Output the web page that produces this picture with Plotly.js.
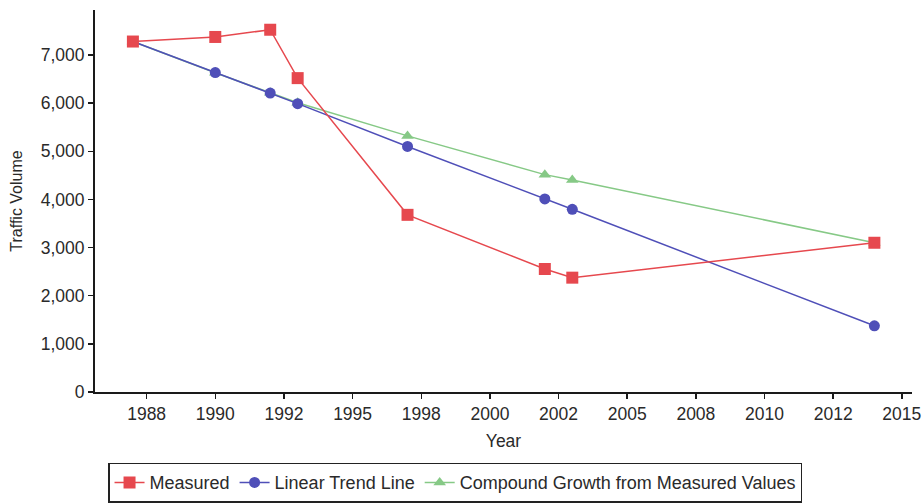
<!DOCTYPE html>
<html>
<head>
<meta charset="utf-8">
<script src="https://cdn.plot.ly/plotly-3.0.1.min.js"></script>
<style>html,body{margin:0;padding:0;background:#fff;}#chart{width:923px;height:503px;}</style>
</head>
<body>
<div id="chart"></div>
<script>
// Data
const years = [1987, 1990, 1992, 1993, 1997, 2002, 2003, 2014];
const measured = [7280, 7375, 7525, 6520, 3680, 2555, 2375, 3100];
const linearTrend = [7280, 6635, 6210, 5990, 5100, 4010, 3795, 1375];
const compoundYears = [1987, 1990, 1992, 1993, 1997, 2002, 2003, 2014];
const compoundGrowth = [7280, 6630, 6215, 6010, 5320, 4515, 4405, 3100];

const tickYears = [1987.5, 1990, 1992.5, 1995, 1997.5, 2000, 2002.5, 2005, 2007.5, 2010, 2012.5, 2015];
const tickLabels = ['1988', '1990', '1992', '1995', '1998', '2000', '2002', '2005', '2008', '2010', '2012', '2015'];

const seriesNames = ['Measured', 'Linear Trend Line', 'Compound Growth from Measured Values'];

const red = '#e6484e';
const blue = '#4f4fb8';
const green = '#86c986';

const traces = [
  {
    x: compoundYears, y: compoundGrowth, name: seriesNames[2], type: 'scatter', mode: 'lines+markers',
    line: {color: green, width: 1.5},
    marker: {symbol: 'triangle-up', size: 11, color: green},
    legendrank: 3
  },
  {
    x: years, y: linearTrend, name: seriesNames[1], type: 'scatter', mode: 'lines+markers',
    line: {color: blue, width: 1.5},
    marker: {symbol: 'circle', size: 11, color: blue},
    legendrank: 2
  },
  {
    x: years, y: measured, name: seriesNames[0], type: 'scatter', mode: 'lines+markers',
    line: {color: red, width: 1.5},
    marker: {symbol: 'square', size: 12, color: red},
    legendrank: 1
  }
];

const fam = 'Liberation Sans, Arial, sans-serif';
const txt = '#2a2a2a';

const layout = {
  width: 923, height: 503,
  margin: {l: 95, r: 11, t: 10, b: 111, autoexpand: false},
  paper_bgcolor: '#ffffff', plot_bgcolor: '#ffffff',
  font: {family: fam, size: 17.5, color: txt},
  showlegend: true,
  legend: {
    orientation: 'h', xref: 'container', yref: 'container',
    x: 0.493, xanchor: 'center', y: 0.08, yanchor: 'top',
    bordercolor: '#222', borderwidth: 1.5, bgcolor: '#ffffff',
    font: {family: fam, size: 18, color: txt},
    itemwidth: 30, tracegroupgap: 0
  },
  xaxis: {
    range: [1985.62, 2015.37],
    tickmode: 'array', tickvals: tickYears, ticktext: tickLabels,
    showgrid: false, zeroline: false,
    showline: true, linecolor: '#1a1a1a', linewidth: 2,
    ticks: 'outside', ticklen: 5, tickwidth: 1.5, tickcolor: '#1a1a1a',
    tickfont: {family: fam, size: 17.5, color: txt},
    title: {text: 'Year', font: {family: fam, size: 17.5, color: txt}, standoff: 12}
  },
  yaxis: {
    range: [0, 7935],
    tickmode: 'linear', tick0: 0, dtick: 1000, tickformat: ',d',
    showgrid: false, zeroline: false,
    showline: true, linecolor: '#1a1a1a', linewidth: 2,
    ticks: 'outside', ticklen: 5, tickwidth: 1.5, tickcolor: '#1a1a1a',
    tickfont: {family: fam, size: 17.5, color: txt},
    title: {text: 'Traffic Volume', font: {family: fam, size: 16, color: txt}, standoff: 14}
  }
};

Plotly.newPlot('chart', traces, layout, {displayModeBar: false, staticPlot: true});
</script>
</body>
</html>
